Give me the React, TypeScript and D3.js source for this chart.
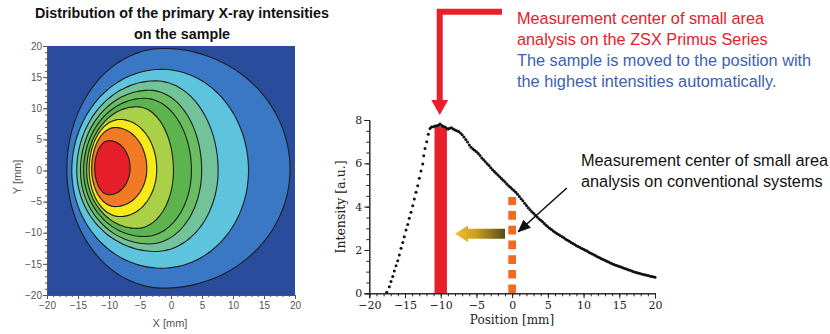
import React, { useEffect, useMemo, useRef } from 'react';
import * as d3 from 'd3';

const WIDTH = 830;
const HEIGHT = 334;

// ---- left map: contour levels (mm), outer -> inner
const levelLeft = [-16.8, -16.0, -15.2, -14.6, -14.1, -13.6, -13.2, -12.8, -12.3];
const levelRight = [19.2, 12.5, 7.6, 4.95, 3.3, 0.4, -2.3, -3.9, -6.6];
const levelTop = [19.6, 16.25, 14.4, 12.9, 11.6, 10.25, 8.2, 6.9, 4.8];
const levelBottom = [-18.9, -15.7, -13.0, -11.8, -10.6, -9.3, -7.4, -5.8, -3.9];
const levelPeakX = [-1.2, -1.5, -2.5, -3.5, -4.3, -5.5, -8.2, -9.0, -10.0];
const levelMidY = [0.2, 0, 0, 0, 0, 0, 0.2, 0.3, 0.4];
const bandColors = [
  '#3a78c6',
  '#5ec4de',
  '#72c39a',
  '#6bbd62',
  '#5db44e',
  '#a9d046',
  '#f8ea1a',
  '#f17a24',
  '#e61e2a',
];
const mapBackground = '#2a4c9c';

// ---- right chart: line profile through the beam
const positions = [
  -17.56, -17.2, -16.96, -16.72, -16.5, -16.26, -16.02, -15.8, -15.56, -15.32, -15.1, -14.86,
  -14.62, -14.4, -14.16, -13.92, -13.7, -13.46, -13.22, -13.0, -12.76, -12.52, -12.38, -12.2,
  -11.96, -11.74, -11.5, -11.3, -11.03, -10.8, -10.55, -10.3, -10.1, -9.85, -9.6, -9.35, -9.1,
  -8.94, -8.75, -8.5, -8.25, -8.0, -7.75, -7.5, -7.25, -7.0, -6.75, -6.5, -6.25, -6.0, -5.75,
  -5.5, -5.25, -5.0, -4.75, -4.5, -4.25, -4.0, -3.75, -3.5, -3.25, -3.0, -2.75, -2.5, -2.25,
  -2.0, -1.75, -1.5, -1.25, -1.0, -0.75, -0.5, -0.25, 0, 0.25, 0.5, 0.75, 1.0, 1.25, 1.5, 1.75,
  2.0, 2.25, 2.5, 2.75, 3.0, 3.25, 3.5, 3.75, 4.0, 4.25, 4.5, 4.75, 5.0, 5.25, 5.5, 5.75, 6.0,
  6.25, 6.5, 6.75, 7.0, 7.25, 7.5, 7.75, 8.0, 8.25, 8.5, 8.75, 9.0, 9.25, 9.5, 9.75, 10.0, 10.25,
  10.5, 10.75, 11.0, 11.25, 11.5, 11.75, 12.0, 12.25, 12.5, 12.75, 13.0, 13.25, 13.5, 13.75,
  14.0, 14.25, 14.5, 14.75, 15.0, 15.25, 15.5, 15.75, 16.0, 16.25, 16.5, 16.75, 17.0, 17.25,
  17.5, 17.75, 18.0, 18.25, 18.5, 18.75, 19.0, 19.25, 19.5, 19.75, 20.0,
];
const intensities = [
  0.05, 0.3, 0.54, 0.78, 1.03, 1.27, 1.5, 1.77, 2.08, 2.35, 2.61, 2.92, 3.18, 3.46, 3.74, 4.04,
  4.35, 4.66, 4.97, 5.31, 5.64, 5.97, 6.35, 6.69, 7.0, 7.34, 7.61, 7.68, 7.69, 7.72, 7.74, 7.76,
  7.82, 7.75, 7.7, 7.66, 7.6, 7.58, 7.62, 7.64, 7.58, 7.54, 7.5, 7.47, 7.4, 7.32, 7.22, 7.1,
  6.98, 6.85, 6.74, 6.66, 6.6, 6.54, 6.45, 6.36, 6.25, 6.16, 6.07, 5.98, 5.9, 5.8, 5.7, 5.62,
  5.54, 5.46, 5.38, 5.3, 5.22, 5.14, 5.05, 4.97, 4.89, 4.82, 4.74, 4.66, 4.57, 4.47, 4.37, 4.27,
  4.16, 4.05, 3.95, 3.86, 3.77, 3.69, 3.6, 3.52, 3.44, 3.37, 3.3, 3.22, 3.14, 3.07, 3.0, 2.94,
  2.88, 2.82, 2.76, 2.71, 2.66, 2.61, 2.56, 2.5, 2.45, 2.4, 2.35, 2.3, 2.25, 2.2, 2.16, 2.11,
  2.07, 2.03, 1.99, 1.95, 1.9, 1.85, 1.81, 1.77, 1.72, 1.68, 1.64, 1.6, 1.56, 1.52, 1.48, 1.44,
  1.4, 1.36, 1.33, 1.3, 1.27, 1.24, 1.21, 1.18, 1.15, 1.12, 1.09, 1.06, 1.03, 1.0, 0.97, 0.95,
  0.92, 0.9, 0.88, 0.86, 0.84, 0.82, 0.8, 0.78, 0.76, 0.74,
];

// annotations (in data units of the right chart)
const peakPos = -10;
const peakBarWidth = 1.74;
const peakBarTop = 7.7;
const convPos = 0;
const convTop = 4.45;
const shiftFrom = -1;
const shiftTo = -8;
const shiftAt = 2.75;
const pointerFrom = [7.65, 4.86];
const pointerTo = [0.85, 2.84];

const redText = ['Measurement center of small area', 'analysis on the ZSX Primus Series'];
const blueText = ['The sample is moved to the position with', 'the highest intensities automatically.'];
const blackText = ['Measurement center of small area', 'analysis on conventional systems'];

const SANS = 'Arial, "Liberation Sans", sans-serif';
const SERIF = '"DejaVu Serif", serif';

const App = () => {
  const mx = useMemo(() => d3.scaleLinear().domain([-20, 20]).range([47, 295]), []);
  const my = useMemo(() => d3.scaleLinear().domain([-20, 20]).range([295, 46]), []);
  const px = useMemo(() => d3.scaleLinear().domain([-20, 20]).range([369.3, 655]), []);
  const py = useMemo(() => d3.scaleLinear().domain([0, 8]).range([293.3, 120]), []);

  const $mapX: any = useRef(null);
  const $mapY: any = useRef(null);
  const $mapXm: any = useRef(null);
  const $mapYm: any = useRef(null);
  const $px: any = useRef(null);
  const $py: any = useRef(null);
  const $pxm: any = useRef(null);
  const $pym: any = useRef(null);

  // egg-shaped contour from four quarter ellipses
  const contourPath = (i: number) => {
    const cx = levelPeakX[i];
    const cy = levelMidY[i];
    const pts: [number, number][] = d3.range(0, 96).map((k) => {
      const a = (k / 96) * Math.PI * 2;
      const c = Math.cos(a);
      const s = Math.sin(a);
      const rx = c >= 0 ? levelRight[i] - cx : cx - levelLeft[i];
      const ry = s >= 0 ? levelTop[i] - cy : cy - levelBottom[i];
      return [mx(cx + rx * c), my(cy + ry * s)];
    });
    return d3.line().curve(d3.curveCardinalClosed)(pts) || '';
  };

  useEffect(() => {
    const style = (sel: any, color: string, font: string, size: number) => {
      sel.select('.domain').attr('stroke', color);
      sel.selectAll('.tick line').attr('stroke', color);
      sel
        .selectAll('.tick text')
        .attr('fill', color)
        .style('font-family', font)
        .style('font-size', `${size}px`);
    };
    const major = d3.range(-20, 21, 5);
    const minor = d3.range(-20, 21, 1);

    d3.select($mapXm.current).call(
      d3.axisBottom(mx).tickValues(minor).tickSize(2).tickFormat('' as any) as any
    );
    d3.select($mapYm.current).call(
      d3.axisLeft(my).tickValues(minor).tickSize(2).tickFormat('' as any) as any
    );
    d3.select($mapX.current).call(
      d3.axisBottom(mx).tickValues(major).tickSize(4).tickPadding(3) as any
    );
    d3.select($mapY.current).call(
      d3.axisLeft(my).tickValues(major).tickSize(4).tickPadding(1) as any
    );
    [$mapX, $mapY, $mapXm, $mapYm].forEach((r) => style(d3.select(r.current), '#555', SANS, 10));

    d3.select($pxm.current).call(
      d3.axisBottom(px).tickValues(minor).tickSize(3).tickFormat('' as any) as any
    );
    d3.select($pym.current).call(
      d3.axisLeft(py).tickValues(d3.range(0, 8.01, 0.5)).tickSize(3).tickFormat('' as any) as any
    );
    d3.select($px.current).call(d3.axisBottom(px).tickValues(major).tickSize(5).tickPadding(3) as any);
    d3.select($py.current).call(
      d3.axisLeft(py).tickValues([0, 2, 4, 6, 8]).tickSize(5).tickPadding(2) as any
    );
    [$px, $py, $pxm, $pym].forEach((r) => style(d3.select(r.current), '#222', SERIF, 11));
  }, [mx, my, px, py]);

  const vx = px(peakPos) - 1;
  const tipX = px(shiftTo);
  const endX = px(shiftFrom);
  const ay = py(shiftAt);

  return (
    <svg
      width={WIDTH}
      height={HEIGHT}
      viewBox={`0 0 ${WIDTH} ${HEIGHT}`}
      style={{ position: 'absolute', left: 0, top: 0, background: '#fff' }}
    >
      <defs>
        <clipPath id="mapClip">
          <rect x={47} y={46} width={248} height={249} />
        </clipPath>
        <linearGradient id="gold" x1="0" x2="1" y1="0" y2="0">
          <stop offset="0" stopColor="#f2c230" />
          <stop offset="0.45" stopColor="#c99a22" />
          <stop offset="1" stopColor="#5a4a18" />
        </linearGradient>
        <marker
          id="head"
          markerUnits="userSpaceOnUse"
          markerWidth={13}
          markerHeight={11}
          refX={12}
          refY={5.5}
          orient="auto"
        >
          <path d="M0,0 L13,5.5 L0,11 Z" fill="#111" />
        </marker>
      </defs>

      {/* title */}
      <g fontFamily={SANS} fontWeight="bold" fontSize={14.3} fill="#111" textAnchor="middle">
        <text x={182} y={18}>
          Distribution of the primary X-ray intensities
        </text>
        <text x={182} y={39}>
          on the sample
        </text>
      </g>

      {/* contour map */}
      <g clipPath="url(#mapClip)">
        <rect x={47} y={46} width={248} height={249} fill={mapBackground} />
        {bandColors.map((c, i) => (
          <path key={i} d={contourPath(i)} fill={c} stroke="#1b1f1f" strokeWidth={1.1} />
        ))}
      </g>
      <g ref={$mapXm} transform="translate(0,295)" />
      <g ref={$mapYm} transform="translate(47,0)" />
      <g ref={$mapX} transform="translate(0,295)" />
      <g ref={$mapY} transform="translate(47,0)" />
      <text x={170} y={327} textAnchor="middle" fontFamily={SANS} fontSize={11} fill="#555">
        X [mm]
      </text>
      <text
        transform="translate(21,177) rotate(-90)"
        textAnchor="middle"
        fontFamily={SANS}
        fontSize={11}
        fill="#555"
      >
        Y [mm]
      </text>

      {/* profile chart */}
      <rect
        x={px(peakPos - peakBarWidth / 2)}
        y={py(peakBarTop)}
        width={px(peakPos + peakBarWidth / 2) - px(peakPos - peakBarWidth / 2)}
        height={py(0) - py(peakBarTop)}
        fill="#e8202a"
      />
      <line
        x1={px(convPos)}
        x2={px(convPos)}
        y1={py(0)}
        y2={py(convTop)}
        stroke="#f26a22"
        strokeWidth={7.7}
        strokeDasharray="8.7 6"
      />
      <g>
        {positions.map((p, i) => (
          <circle key={i} cx={px(p)} cy={py(intensities[i])} r={1.5} fill="#111" />
        ))}
      </g>
      <g ref={$pxm} transform={`translate(0,${py(0)})`} />
      <g ref={$pym} transform={`translate(${px(-20)},0)`} />
      <g ref={$px} transform={`translate(0,${py(0)})`} />
      <g ref={$py} transform={`translate(${px(-20)},0)`} />
      <text x={512} y={324} textAnchor="middle" fontFamily={SERIF} fontSize={12} fill="#222">
        Position [mm]
      </text>
      <text
        transform="translate(345,207) rotate(-90)"
        textAnchor="middle"
        fontFamily={SERIF}
        fontSize={12.5}
        fill="#222"
      >
        Intensity [a.u.]
      </text>

      {/* shift arrow */}
      <polygon
        points={[
          [tipX, ay],
          [tipX + 13, ay - 8.3],
          [tipX + 13, ay - 5],
          [endX, ay - 5],
          [endX, ay + 5],
          [tipX + 13, ay + 5],
          [tipX + 13, ay + 8.3],
        ]
          .map((d) => d.join(','))
          .join(' ')}
        fill="url(#gold)"
      />

      {/* pointer to conventional center */}
      <line
        x1={px(pointerFrom[0])}
        y1={py(pointerFrom[1])}
        x2={px(pointerTo[0])}
        y2={py(pointerTo[1])}
        stroke="#111"
        strokeWidth={1.6}
        markerEnd="url(#head)"
      />

      {/* red L-shaped arrow to the peak */}
      <path
        d={`M502,11.7 L${vx},11.7 L${vx},101`}
        fill="none"
        stroke="#e8202a"
        strokeWidth={6}
        strokeLinejoin="miter"
      />
      <path d={`M${vx - 8.5},100 L${vx + 8.5},100 L${vx},115 Z`} fill="#e8202a" />

      <g fontFamily={SANS} fontSize={16.3}>
        {redText.map((t, i) => (
          <text key={`r${i}`} x={517} y={24 + i * 21} fill="#e8202a">
            {t}
          </text>
        ))}
        {blueText.map((t, i) => (
          <text key={`b${i}`} x={517} y={66 + i * 21} fill="#3a62ae">
            {t}
          </text>
        ))}
        {blackText.map((t, i) => (
          <text key={`k${i}`} x={581} y={166 + i * 21} fill="#111">
            {t}
          </text>
        ))}
      </g>
    </svg>
  );
};

export default App;
